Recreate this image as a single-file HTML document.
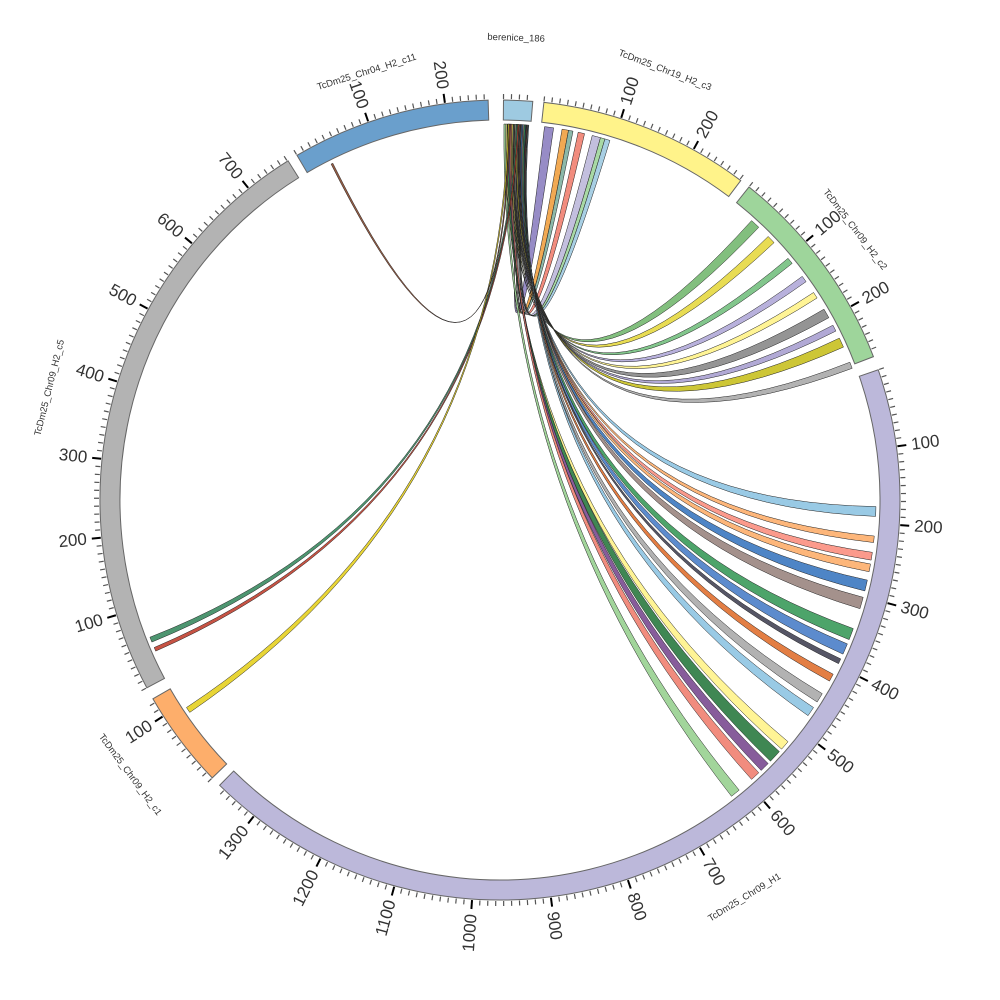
<!DOCTYPE html>
<html><head><meta charset="utf-8"><style>
html,body{margin:0;padding:0;background:#fff;width:1000px;height:1000px;overflow:hidden}
svg{display:block}
text{font-family:"Liberation Sans",sans-serif;fill:#333}
</style></head><body>
<svg id="s" width="1000" height="1000" viewBox="0 0 1000 1000" xmlns="http://www.w3.org/2000/svg"></svg>
<script>
const S=document.getElementById('s');const cx=500,cy=500;
const U=0.113;
function P(r,a){a=a*Math.PI/180;return [cx+r*Math.sin(a),cy-r*Math.cos(a)];}
function f(p){return p[0].toFixed(2)+','+p[1].toFixed(2);}
let h='';
const segs=[
 {n:'berenice_186',a:0.5,e:4.7,c:'#9ecae1',nr:462,na:2},
 {n:'TcDm25_Chr19_H2_c3',a:6.3,e:37,c:'#fff38a',nr:460,na:21},
 {n:'TcDm25_Chr09_H2_c2',a:38.5,e:69,c:'#9ed59b',nr:446,na:52.7},
 {n:'TcDm25_Chr09_H1',a:71,e:224.5,c:'#bcb8da',nr:467,na:148.4},
 {n:'TcDm25_Chr09_H2_c1',a:226,e:240.2,c:'#fdae6b',nr:461,na:233.4},
 {n:'TcDm25_Chr09_H2_c5',a:242,e:328,c:'#b3b3b3',nr:464,na:284},
 {n:'TcDm25_Chr04_H2_c11',a:329.5,e:358.3,c:'#6a9fcc',nr:448,na:342.7}
];
const rb=[
 [3.0,3.2,6.8,8.2,'#8c7fc0'],[3.2,3.4,9.5,10.5,'#f0a040'],[3.4,3.5,10.5,11.2,'#7fb0a0'],
 [3.5,3.6,12,13,'#f08070'],[3.6,3.7,14.2,15.5,'#bcb8da'],[3.7,3.8,15.5,16.2,'#9ed59b'],[3.8,3.9,16.2,17,'#9ecae1'],
 [1.6,1.8,42,43.5,'#74b870'],[1.8,2.0,45.5,46.8,'#e6d840'],[2.0,2.1,50,51,'#74c080'],[2.1,2.2,53.5,54.5,'#b0a8d8'],
 [2.2,2.3,56.5,57.5,'#fff38a'],[2.3,2.5,59.5,61,'#888'],[2.5,2.6,62.3,63.3,'#a8a0d0'],[2.6,2.8,64.5,66,'#c8c020'],[2.8,2.9,68.5,69.5,'#aaa'],
 [2.9,3.0,91,92.5,'#8ec4e2'],[3.0,3.1,95.5,96.5,'#fdae6b'],[3.1,3.2,98,99.2,'#fb8f7f'],[3.2,3.3,99.8,101,'#fdae6b'],
 [3.3,3.5,102.3,104,'#3b78c0'],[3.5,3.7,105,106.8,'#9a8580'],[3.7,3.9,110,111.8,'#3a9a5a'],[3.9,4.0,112.5,114.2,'#4a7ec8'],
 [4.0,4.1,115,115.8,'#445'],[4.1,4.2,117.6,118.8,'#e07030'],[4.2,4.3,121,122.5,'#aaa'],[4.3,4.4,123.5,125,'#8ec4e2'],
 [0.9,1.1,130,131.5,'#fff38a'],[1.1,1.4,132,134,'#2a7a40'],[1.4,1.6,134.5,136,'#7a4a90'],[1.6,1.8,136.5,138,'#f08070'],[0.6,0.9,140.5,142,'#98d090'],
 [2.5,2.7,247.8,248.6,'#3a8a60'],[2.7,2.9,246.3,246.9,'#c04030'],[1.2,1.4,235.6,236.5,'#e6d020'],
 [1.4,1.6,333.3,333.6,'#8a4a30']
];
rb.forEach(r=>{
 const R=376;
 const a1=P(R,r[0]),a2=P(R,r[1]),b1=P(R,r[2]),b2=P(R,r[3]);
 h+=`<path d="M${f(a1)} A${R},${R} 0 0 1 ${f(a2)} Q${cx},${cy} ${f(b1)} A${R},${R} 0 0 1 ${f(b2)} Q${cx},${cy} ${f(a1)}Z" fill="${r[4]}" fill-opacity="0.9" stroke="#222" stroke-width="0.5"/>`;
});
segs.forEach(s=>{
 const o1=P(400,s.a),o2=P(400,s.e),i1=P(380,s.a),i2=P(380,s.e);
 const lg=(s.e-s.a)>180?1:0;
 h+=`<path d="M${f(o1)} A400,400 0 ${lg} 1 ${f(o2)} L${f(i2)} A380,380 0 ${lg} 0 ${f(i1)}Z" fill="${s.c}" stroke="#666" stroke-width="1"/>`;
 const len=(s.e-s.a)/U;
 for(let v=0;v<=len;v+=10){
  const a=s.a+v*U;const maj=v%100==0&&v>0;
  const p1=P(401,a),p2=P(maj?410:406,a);
  h+=`<line x1="${p1[0].toFixed(2)}" y1="${p1[1].toFixed(2)}" x2="${p2[0].toFixed(2)}" y2="${p2[1].toFixed(2)}" stroke="${maj?'#000':'#555'}" stroke-width="${maj?2:1.2}"/>`;
  if(maj){
   const q=P(415,a);let rot,anc;
   if(a<180){rot=a-90;anc='start';}else{rot=a+90;anc='end';}
   h+=`<text x="${q[0].toFixed(2)}" y="${q[1].toFixed(2)}" font-size="17" text-anchor="${anc}" dominant-baseline="central" transform="rotate(${rot.toFixed(2)} ${q[0].toFixed(2)} ${q[1].toFixed(2)})">${v}</text>`;
  }
 }
 const q=P(s.nr,s.na);let rot=s.na;if(s.na>90&&s.na<270)rot=s.na-180;
 h+=`<text x="${q[0].toFixed(2)}" y="${q[1].toFixed(2)}" font-size="9.5" text-anchor="middle" dominant-baseline="central" transform="rotate(${rot.toFixed(2)} ${q[0].toFixed(2)} ${q[1].toFixed(2)})">${s.n}</text>`;
});
S.innerHTML=h;
</script>
</body></html>
